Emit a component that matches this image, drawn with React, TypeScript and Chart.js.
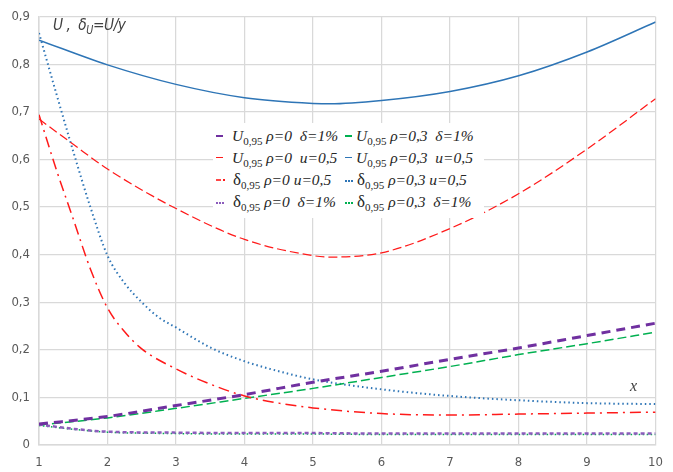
import React, { useEffect, useRef } from "react";
import { Chart, registerables } from "chart.js";

Chart.register(...registerables);

// x positions shared by the near-linear curves
const xInt = [1, 2, 3, 4, 5, 6, 7, 8, 9, 10];

// U0,95, rho = 0, delta = 1%
const uRho0D1 = [0.044, 0.06, 0.083, 0.106, 0.132, 0.155, 0.18, 0.204, 0.23, 0.256];
// U0,95, rho = 0,3, delta = 1%
const uRho03D1 = [0.042, 0.057, 0.077, 0.098, 0.119, 0.142, 0.165, 0.19, 0.213, 0.237];

// U0,95, rho = 0, u = 0,5
const xURho0U05 = [1, 1.5, 2, 3, 4, 5, 5.25, 6, 7, 8, 9, 10];
const uRho0U05 = [0.685, 0.632, 0.58, 0.497, 0.432, 0.398, 0.395, 0.404, 0.455, 0.528, 0.622, 0.728];

// U0,95, rho = 0,3, u = 0,5
const xURho03U05 = [1, 2, 3, 4, 5, 5.25, 6, 7, 8, 9, 10];
const uRho03U05 = [0.851, 0.799, 0.758, 0.73, 0.718, 0.717, 0.724, 0.743, 0.776, 0.826, 0.889];

// delta0,95, rho = 0, u = 0,5
const xDRho0U05 = [1, 1.25, 1.5, 1.75, 2, 2.25, 2.5, 3, 3.5, 4, 4.5, 5, 6, 7, 8, 9, 10];
const dRho0U05 = [0.694, 0.58, 0.475, 0.37, 0.288, 0.238, 0.202, 0.16, 0.128, 0.103, 0.088, 0.078, 0.066, 0.063, 0.065, 0.067, 0.069];

// delta0,95, rho = 0,3, u = 0,5
const xDRho03U05 = [1, 1.25, 1.5, 1.75, 2, 2.25, 2.5, 2.75, 3, 3.5, 4, 4.5, 5, 6, 7, 8, 9, 10];
const dRho03U05 = [0.866, 0.74, 0.617, 0.5, 0.398, 0.34, 0.3, 0.268, 0.247, 0.205, 0.176, 0.155, 0.138, 0.117, 0.103, 0.094, 0.088, 0.086];

// delta0,95 with delta = 1%
const xD1 = [1, 1.5, 2, 3, 4, 5, 6, 7, 8, 9, 10];
const dRho0D1 = [0.043, 0.034, 0.028, 0.026, 0.025, 0.025, 0.024, 0.024, 0.024, 0.024, 0.024];
const dRho03D1 = [0.041, 0.033, 0.027, 0.024, 0.023, 0.023, 0.022, 0.022, 0.022, 0.022, 0.022];

const xTickValues = [1, 2, 3, 4, 5, 6, 7, 8, 9, 10];
const yTickValues = [0, 0.1, 0.2, 0.3, 0.4, 0.5, 0.6, 0.7, 0.8, 0.9];

const PURPLE = "#7030a0";
const PURPLE_LIGHT = "#8c5cbc";
const RED = "#ff1a1a";
const GREEN = "#00b050";
const BLUE = "#2e75b6";

type Series = {
  sym: string;
  rest: string;
  xs: number[];
  ys: number[];
  color: string;
  width: number;
  dash: number[];
};

const series: Series[] = [
  { sym: "U", rest: " ρ=0  δ=1%", xs: xInt, ys: uRho0D1, color: PURPLE, width: 3, dash: [9, 6] },
  { sym: "U", rest: " ρ=0  u=0,5", xs: xURho0U05, ys: uRho0U05, color: RED, width: 1.25, dash: [9, 4] },
  { sym: "δ", rest: " ρ=0 u=0,5", xs: xDRho0U05, ys: dRho0U05, color: RED, width: 1.5, dash: [11, 5, 2, 5] },
  { sym: "δ", rest: " ρ=0  δ=1%", xs: xD1, ys: dRho0D1, color: PURPLE_LIGHT, width: 2.5, dash: [4, 3] },
  { sym: "U", rest: " ρ=0,3  δ=1%", xs: xInt, ys: uRho03D1, color: GREEN, width: 1.5, dash: [9, 4] },
  { sym: "U", rest: " ρ=0,3  u=0,5", xs: xURho03U05, ys: uRho03U05, color: BLUE, width: 1.5, dash: [] },
  { sym: "δ", rest: " ρ=0,3 u=0,5", xs: xDRho03U05, ys: dRho03U05, color: BLUE, width: 2, dash: [1.5, 3] },
  { sym: "δ", rest: " ρ=0,3  δ=1%", xs: xD1, ys: dRho03D1, color: GREEN, width: 1.5, dash: [1.5, 2.5] },
];

const GRID = "#d9d9d9";
const TICK_FONT = '"Liberation Sans Narrow", "DejaVu Sans Condensed", "Open Sans", sans-serif';
const SERIF = '"Liberation Serif", "DejaVu Serif", serif';

function fmt(v: number): string {
  if (v === 0) return "0";
  return v.toFixed(1).replace(".", ",");
}

function LegendItem({ s, left, textLeft, cy }: { s: Series; left: number; textLeft: number; cy: number }) {
  const dotted = s.dash.length > 0 && s.dash[0] < 5;
  const dashDot = s.dash.length > 2;
  return (
    <>
      {dashDot ? (
        <>
          <div style={{ position: "absolute", left, top: cy - 0.5, width: 5, height: 1.5, background: s.color, opacity: 0.8 }} />
          <div style={{ position: "absolute", left: left + 7, top: cy - 0.5, width: 1.5, height: 1.5, background: s.color }} />
        </>
      ) : dotted ? (
        <div
          style={{
            position: "absolute",
            left,
            top: cy,
            width: 8,
            height: 0,
            borderTop: `2px dotted ${s.color}`,
          }}
        />
      ) : (
        <div style={{ position: "absolute", left, top: cy - 1, width: 7, height: s.width > 2 ? 2 : 1.5, background: s.color }} />
      )}
      <div
        style={{
          position: "absolute",
          left: textLeft,
          top: cy - 11,
          height: 22,
          lineHeight: "22px",
          fontFamily: SERIF,
          fontSize: 15.5,
          color: "#262626",
          whiteSpace: "pre",
        }}
      >
        <span style={{ fontStyle: s.sym === "U" ? "italic" : "normal", fontSize: s.sym === "U" ? 15.5 : 17 }}>{s.sym}</span>
        <span style={{ fontSize: 11, position: "relative", top: 4 }}>0,95</span>
        <span style={{ fontStyle: "italic" }}>{s.rest}</span>
      </div>
    </>
  );
}

export default function App() {
  const canvasRef = useRef<HTMLCanvasElement | null>(null);

  useEffect(() => {
    const canvas = canvasRef.current;
    if (!canvas) return;
    const chart = new Chart(canvas, {
      type: "line",
      data: {
        datasets: series.map((s) => ({
          label: s.sym + "0,95" + s.rest,
          data: s.xs.map((x, i) => ({ x, y: s.ys[i] })),
          borderColor: s.color,
          borderWidth: s.width,
          borderDash: s.dash,
          pointRadius: 0,
          fill: false,
          cubicInterpolationMode: "monotone" as const,
        })),
      },
      options: {
        animation: false,
        responsive: true,
        maintainAspectRatio: false,
        layout: { padding: { left: 0, right: 17, top: 16, bottom: 0 } },
        plugins: {
          legend: { display: false },
          tooltip: { enabled: false },
        },
        scales: {
          x: {
            type: "linear",
            min: 1,
            max: 10,
            afterFit: (scale: any) => {
              scale.height = 27;
            },
            afterBuildTicks: (scale: any) => {
              scale.ticks = xTickValues.map((v) => ({ value: v }));
            },
            ticks: {
              color: "#595959",
              font: { family: TICK_FONT, size: 13 },
              padding: 10,
              maxRotation: 0,
              callback: (v: any) => String(v),
            },
            grid: { color: GRID, lineWidth: 1.25, drawTicks: false },
            border: { color: GRID, width: 1.5 },
          },
          y: {
            type: "linear",
            min: 0,
            max: 0.9,
            afterFit: (scale: any) => {
              scale.width = 39;
            },
            afterBuildTicks: (scale: any) => {
              scale.ticks = yTickValues.map((v) => ({ value: v }));
            },
            ticks: {
              color: "#595959",
              font: { family: TICK_FONT, size: 13 },
              padding: 9,
              callback: (v: any) => fmt(Number(v)),
            },
            grid: { color: GRID, lineWidth: 1.25, drawTicks: false },
            border: { color: GRID, width: 1.5 },
          },
        },
      },
    });
    return () => chart.destroy();
  }, []);

  const rows = [136, 157.5, 179.5, 201.5];

  return (
    <div style={{ position: "fixed", left: 0, top: 0, width: 673, height: 472, background: "#ffffff", overflow: "hidden" }}>
      <canvas ref={canvasRef} style={{ position: "absolute", left: 0, top: 0, width: 673, height: 472 }} />
      <div
        style={{
          position: "absolute",
          left: 53,
          top: 15,
          fontFamily: TICK_FONT,
          fontStyle: "italic",
          fontSize: 16.5,
          letterSpacing: -0.5,
          color: "#404040",
          whiteSpace: "pre",
          transform: "scaleX(0.93)",
          transformOrigin: "left center",
        }}
      >
        {"U ,  δ"}
        <span style={{ fontSize: 11.5, position: "relative", top: 4 }}>U</span>
        {"=U/y"}
      </div>
      <div
        style={{
          position: "absolute",
          left: 630,
          top: 376,
          fontFamily: SERIF,
          fontStyle: "italic",
          fontSize: 16,
          lineHeight: "20px",
          color: "#404040",
        }}
      >
        x
      </div>
      <div style={{ position: "absolute", left: 213, top: 123, width: 271, height: 95, background: "#ffffff" }}>
        {series.slice(0, 4).map((s, i) => (
          <LegendItem key={"a" + i} s={s} left={216 - 213} textLeft={232 - 213 + (s.sym === "δ" ? 1 : 0)} cy={rows[i] - 123} />
        ))}
        {series.slice(4).map((s, i) => (
          <LegendItem key={"b" + i} s={s} left={345 - 213} textLeft={356 - 213 + (s.sym === "δ" ? 1 : 0)} cy={rows[i] - 123} />
        ))}
      </div>
    </div>
  );
}
